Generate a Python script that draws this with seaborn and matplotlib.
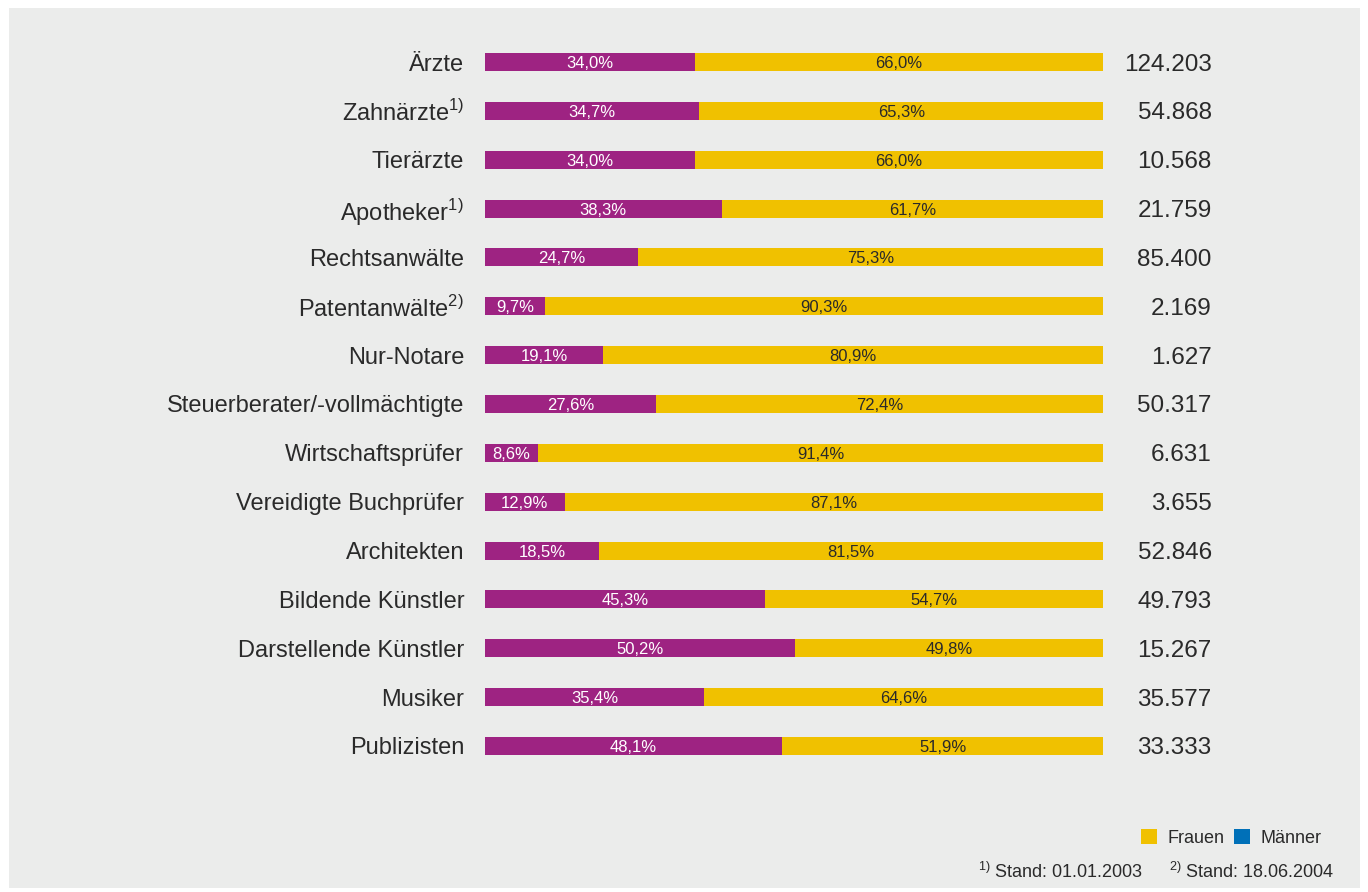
import matplotlib
matplotlib.use("Agg")
import matplotlib.pyplot as plt
import seaborn as sns
import pandas as pd
from matplotlib.patches import Rectangle, Patch

categories = ["Ärzte", "Zahnärzte", "Tierärzte", "Apotheker", "Rechtsanwälte",
              "Patentanwälte", "Nur-Notare", "Steuerberater/-vollmächtigte",
              "Wirtschaftsprüfer", "Vereidigte Buchprüfer", "Architekten",
              "Bildende Künstler", "Darstellende Künstler", "Musiker", "Publizisten"]
footnote_marks = ["", "1)", "", "1)", "", "2)", "", "", "", "", "", "", "", "", ""]
share_purple = [34.0, 34.7, 34.0, 38.3, 24.7, 9.7, 19.1, 27.6, 8.6, 12.9, 18.5, 45.3, 50.2, 35.4, 48.1]
share_yellow = [66.0, 65.3, 66.0, 61.7, 75.3, 90.3, 80.9, 72.4, 91.4, 87.1, 81.5, 54.7, 49.8, 64.6, 51.9]
totals = [124203, 54868, 10568, 21759, 85400, 2169, 1627, 50317, 6631, 3655, 52846, 49793, 15267, 35577, 33333]
legend_labels = ["Frauen", "Männer"]
footnotes = ["1)", "Stand: 01.01.2003", "2)", "Stand: 18.06.2004"]

PURPLE = "#9E2382"
YELLOW = "#F0C100"
BLUE = "#0070B8"
BG = "#EBECEB"
TXT = "#2a2a2a"

sns.set_theme(style="white")
plt.rcParams["font.family"] = ["Liberation Sans", "DejaVu Sans"]

def de(p):
    return f"{p:.1f}".replace(".", ",") + "%"

def thousands(n):
    return f"{n:,}".replace(",", ".")

df = pd.DataFrame({
    "cat": categories,
    "purple": share_purple,
    "yellow": share_yellow,
})
df["stack"] = df["purple"] + df["yellow"]

fig = plt.figure(figsize=(13.68, 8.92), dpi=100, facecolor="white")
fig.patches.append(Rectangle((9 / 1368, 1 - 888 / 892), (1360 - 9) / 1368, (888 - 8) / 892,
                             transform=fig.transFigure, facecolor=BG, edgecolor="none", zorder=-10))

ax = fig.add_axes([485 / 1368, 1 - 770.4 / 892, 618 / 1368, (770.4 - 37.6) / 892])
ax.set_zorder(5)
ax.set_facecolor("none")
ax.patch.set_alpha(0)

sns.barplot(data=df, x="stack", y="cat", orient="h", color=YELLOW, saturation=1,
            width=0.37, ax=ax, order=categories, linewidth=0)
sns.barplot(data=df, x="purple", y="cat", orient="h", color=PURPLE, saturation=1,
            width=0.37, ax=ax, order=categories, linewidth=0)

ax.set_xlim(0, 100)
ax.set_ylim(len(categories) - 0.5, -0.5)
ax.set_xlabel("")
ax.set_ylabel("")
ax.set_xticks([])
for s in ax.spines.values():
    s.set_visible(False)

ticklabels = [c + (f"$^\\mathregular{{{m}}}$" if m else "") for c, m in zip(categories, footnote_marks)]
ax.set_yticks(range(len(categories)))
ax.set_yticklabels(ticklabels, fontsize=17, color=TXT)
ax.tick_params(axis="y", length=0, pad=15)

for i, (p, y, t) in enumerate(zip(share_purple, share_yellow, totals)):
    ax.text(p / 2, i + 0.03, de(p), ha="center", va="center", color="white", fontsize=12)
    ax.text(p + y / 2, i + 0.03, de(y), ha="center", va="center", color=TXT, fontsize=12)
    ax.text(117.6, i, thousands(t), ha="right", va="center_baseline", color=TXT,
            fontsize=17.5, clip_on=False)

handles = [Patch(facecolor=YELLOW, edgecolor="none"), Patch(facecolor=BLUE, edgecolor="none")]
fig.legend(handles, legend_labels, loc="center right", bbox_to_anchor=(1338 / 1368, 1 - 838 / 892),
           ncol=2, frameon=False, fontsize=13, handlelength=0.9, handleheight=0.9,
           handletextpad=0.6, columnspacing=0.5, labelcolor=TXT)

fig.text(1143 / 1368, 1 - 872 / 892, f"$^\\mathregular{{{footnotes[0]}}}$ {footnotes[1]}",
         ha="right", va="center", fontsize=13, color=TXT)
fig.text(1334 / 1368, 1 - 872 / 892, f"$^\\mathregular{{{footnotes[2]}}}$ {footnotes[3]}",
         ha="right", va="center", fontsize=13, color=TXT)

fig.savefig("out.png", dpi=100, facecolor="white")
